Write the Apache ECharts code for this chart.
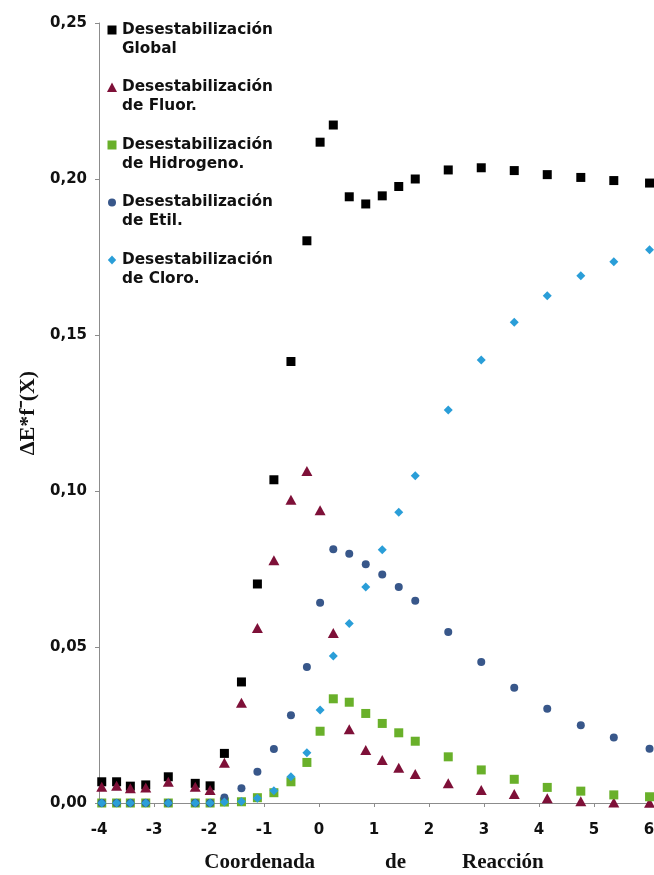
<!DOCTYPE html>
<html>
<head>
<meta charset="utf-8">
<script src="https://cdn.jsdelivr.net/npm/echarts@6/dist/echarts.min.js"></script>
<style>
  html, body { margin: 0; padding: 0; background: #ffffff; }
  #chart { width: 654px; height: 875px; }
</style>
</head>
<body>
<div id="chart"></div>
<script>
// Reaction coordinate (shared by every series)
const coordX = [-3.95, -3.68, -3.43, -3.15, -2.74, -2.25, -1.98, -1.72, -1.41, -1.12,
                -0.82, -0.51, -0.22, 0.02, 0.26, 0.55, 0.85, 1.15, 1.45, 1.75,
                2.35, 2.95, 3.55, 4.15, 4.76, 5.36, 6.01];

// ΔE*f⁻(X) for each contribution
const global = [0.0068, 0.0068, 0.0054, 0.0058, 0.0084, 0.0063, 0.0055, 0.0159, 0.0388, 0.0702,
                0.1036, 0.1415, 0.1802, 0.2118, 0.2173, 0.1943, 0.1920, 0.1946, 0.1976, 0.2000,
                0.2029, 0.2036, 0.2027, 0.2014, 0.2005, 0.1995, 0.1987];
const fluor = [0.0052, 0.0055, 0.0047, 0.0050, 0.0068, 0.0052, 0.0042, 0.0129, 0.0321, 0.0561,
               0.0778, 0.0972, 0.1064, 0.0938, 0.0545, 0.0236, 0.0170, 0.0138, 0.0113, 0.0093,
               0.0063, 0.0042, 0.0029, 0.0015, 0.0006, 0.0002, 0.0001];
const hidrogeno = [0, 0, 0, 0, 0, 0, 0, 0.0003, 0.0004, 0.0017,
                   0.0033, 0.0068, 0.0130, 0.0230, 0.0334, 0.0323, 0.0287, 0.0255, 0.0225, 0.0198,
                   0.0148, 0.0106, 0.0076, 0.0050, 0.0038, 0.0026, 0.0020];
const etil = [0, 0, 0, 0, 0, 0, 0, 0.0018, 0.0047, 0.0100,
              0.0173, 0.0281, 0.0436, 0.0642, 0.0813, 0.0799, 0.0765, 0.0732, 0.0692, 0.0648,
              0.0548, 0.0452, 0.0369, 0.0302, 0.0249, 0.0210, 0.0174];
const cloro = [0, 0, 0, 0, 0, 0, 0, 0.0003, 0.0005, 0.0015,
               0.0039, 0.0084, 0.0161, 0.0298, 0.0471, 0.0575, 0.0692, 0.0812, 0.0932, 0.1049,
               0.1260, 0.1420, 0.1541, 0.1626, 0.1690, 0.1735, 0.1773];

const seriesNames = [
  'Desestabilización\nGlobal',
  'Desestabilización\nde Fluor.',
  'Desestabilización\nde Hidrogeno.',
  'Desestabilización\nde Etil.',
  'Desestabilización\nde Cloro.'
];

const pair = ys => coordX.map((x, i) => [x, ys[i]]);

// Legend icons: the symbol sits level with the first text line of each two-line entry
const iconSquare = 'path://M0,0M10,38M0.5,5H9.5V14H0.5Z';
const iconTriangle = 'path://M0,0M10,38M5,4.5L10,14L0,14Z';
const iconCircle = 'path://M0,0M10,38M1,9.5A4,4 0 1 1 9,9.5A4,4 0 1 1 1,9.5Z';
const iconDiamond = 'path://M0,0M10,38M5,5L9.2,9.5L5,14L0.8,9.5Z';

const tickFont = { fontFamily: 'DejaVu Sans', fontWeight: 'bold', fontSize: 15, color: '#111' };
const axisGrey = '#8c8c8c';

const chart = echarts.init(document.getElementById('chart'), null, { renderer: 'canvas' });

chart.setOption({
  backgroundColor: '#ffffff',
  animation: false,
  grid: { left: 99, right: 5, top: 23, bottom: 72, containLabel: false, outerBoundsMode: 'none' },
  legend: {
    orient: 'vertical',
    left: 107,
    top: 20.5,
    padding: 0,
    itemWidth: 10,
    itemHeight: 38,
    itemGap: 19.5,
    textStyle: {
      fontFamily: 'DejaVu Sans', fontWeight: 'bold', fontSize: 15.3,
      lineHeight: 19, color: '#111'
    },
    data: [
      { name: seriesNames[0], icon: iconSquare },
      { name: seriesNames[1], icon: iconTriangle },
      { name: seriesNames[2], icon: iconSquare },
      { name: seriesNames[3], icon: iconCircle },
      { name: seriesNames[4], icon: iconDiamond }
    ],
    selectedMode: false
  },
  xAxis: {
    type: 'value',
    min: -4, max: 6, interval: 1,
    splitLine: { show: false },
    axisLine: { show: true, onZero: false, lineStyle: { color: axisGrey, width: 1 } },
    axisTick: { show: true, inside: false, length: 4, lineStyle: { color: axisGrey } },
    axisLabel: Object.assign({ margin: 20 }, tickFont),
    name: '{a|Coordenada}{b|de}{c|Reacción}',
    nameLocation: 'middle',
    nameGap: 49,
    nameTextStyle: {
      rich: {
        a: { fontFamily: 'Liberation Serif', fontWeight: 'bold', fontSize: 21, color: '#111' },
        b: { fontFamily: 'Liberation Serif', fontWeight: 'bold', fontSize: 21, color: '#111', padding: [0, 56, 0, 70] },
        c: { fontFamily: 'Liberation Serif', fontWeight: 'bold', fontSize: 21, color: '#111' }
      }
    }
  },
  yAxis: {
    type: 'value',
    min: 0, max: 0.25, interval: 0.05,
    splitLine: { show: false },
    axisLine: { show: true, onZero: false, lineStyle: { color: axisGrey, width: 1 } },
    axisTick: { show: true, inside: false, length: 4, lineStyle: { color: axisGrey } },
    axisLabel: Object.assign({
      margin: 12,
      formatter: v => v.toFixed(2).replace('.', ',')
    }, tickFont),
    name: 'ΔE*f⁻(X)',
    nameLocation: 'middle',
    nameRotate: 90,
    nameGap: 58,
    nameTextStyle: { fontFamily: 'Liberation Serif', fontWeight: 'bold', fontSize: 22, color: '#111' }
  },
  series: [
    { name: seriesNames[0], type: 'scatter', data: pair(global), symbol: 'rect', symbolSize: 9,
      itemStyle: { color: '#000000', opacity: 1 }, clip: false },
    { name: seriesNames[1], type: 'scatter', data: pair(fluor), symbol: 'triangle', symbolSize: [11, 10],
      itemStyle: { color: '#7e1038', opacity: 1 }, clip: false },
    { name: seriesNames[2], type: 'scatter', data: pair(hidrogeno), symbol: 'rect', symbolSize: 9,
      itemStyle: { color: '#69b02a', opacity: 1 }, clip: false },
    { name: seriesNames[3], type: 'scatter', data: pair(etil), symbol: 'circle', symbolSize: 8,
      itemStyle: { color: '#38578a', opacity: 1 }, clip: false },
    { name: seriesNames[4], type: 'scatter', data: pair(cloro), symbol: 'diamond', symbolSize: [9, 9],
      itemStyle: { color: '#2a9ed8', opacity: 1 }, clip: false }
  ]
});
</script>
</body>
</html>
